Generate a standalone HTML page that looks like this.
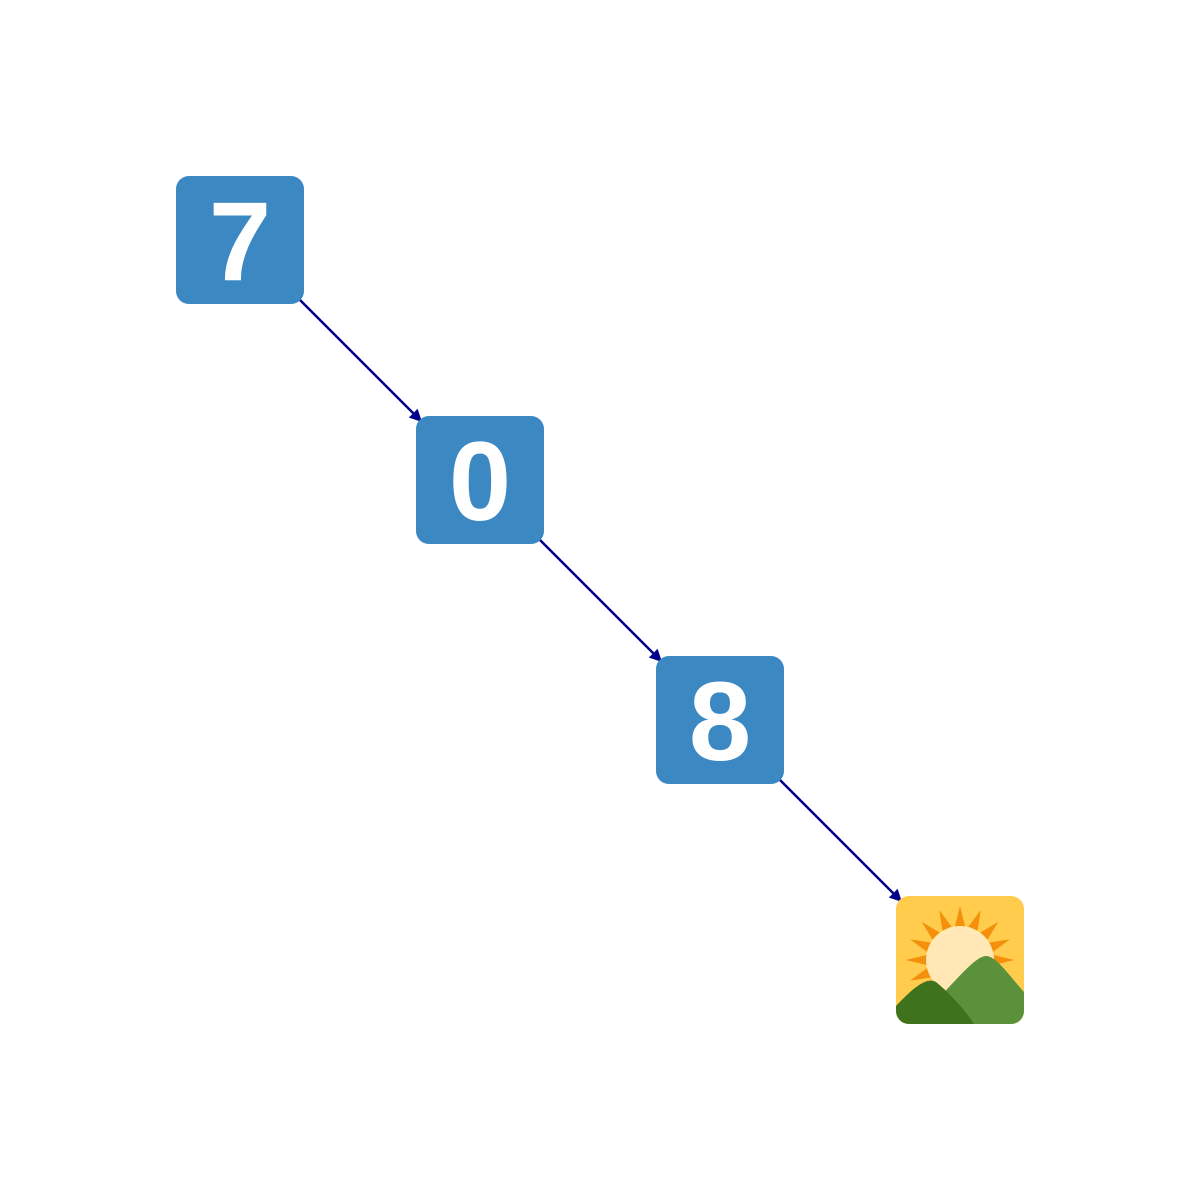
<!DOCTYPE html>
<html><head><meta charset="utf-8">
<style>html,body{margin:0;padding:0;background:#fff;}svg{display:block;}</style>
</head><body>
<svg id="chart" width="1200" height="1200" viewBox="0 0 1200 1200">
<defs>
<marker id="ah" viewBox="0 0 10 10" refX="10" refY="5" markerWidth="5" markerHeight="5" orient="auto" markerUnits="strokeWidth">
<path d="M0,0 L10,5 L0,10 z" fill="#00008b"/>
</marker>
<clipPath id="tileclip"><rect x="0" y="0" width="128" height="128" rx="13"/></clipPath>
</defs>
<g id="edges"></g>
<g id="nodes"></g>
</svg>
<script>
const nodeLabels = ["7", "0", "8", "sunrise"];
const nodeX = [240, 480, 720, 960];
const nodeY = [240, 480, 720, 960];
const edgeFrom = [0, 1, 2];
const edgeTo = [1, 2, 3];

const NS = "http://www.w3.org/2000/svg";
const half = 64;
const edges = document.getElementById("edges");
const nodes = document.getElementById("nodes");
function mk(tag, attrs, parent) {
  const e = document.createElementNS(NS, tag);
  for (const k in attrs) e.setAttribute(k, attrs[k]);
  parent.appendChild(e);
  return e;
}
for (let i = 0; i < edgeFrom.length; i++) {
  const a = edgeFrom[i], b = edgeTo[i];
  const dx = nodeX[b] - nodeX[a], dy = nodeY[b] - nodeY[a];
  const len = Math.hypot(dx, dy), ux = dx / len, uy = dy / len;
  const s = 82, t = 82;
  const l = mk("line", {x1: nodeX[a] + ux * s, y1: nodeY[a] + uy * s, x2: nodeX[b] - ux * t, y2: nodeY[b] - uy * t, stroke: "#00008b", "stroke-width": 2.5, "marker-end": "url(#ah)"}, edges);
  
  
}
for (let i = 0; i < nodeLabels.length; i++) {
  const g = mk("g", {transform: "translate(" + (nodeX[i] - half) + "," + (nodeY[i] - half) + ")"}, nodes);
  
  
  if (nodeLabels[i] === "sunrise") {
    const c = mk("g", {"clip-path": "url(#tileclip)"}, g);
    mk("rect", {x: 0, y: 0, width: 128, height: 128, fill: "#ffcc4d"}, c);
    const rays = mk("g", {fill: "#f4900c"}, c);
    for (let k = 0; k < 16; k++) {
      const ang = k * Math.PI / 8;
      const cx = 64, cy = 64, r1 = 28, r2 = 54;
      const w = 0.24;
      const p = [
        [cx + Math.cos(ang - w) * r1, cy + Math.sin(ang - w) * r1],
        [cx + Math.cos(ang) * r2, cy + Math.sin(ang) * r2],
        [cx + Math.cos(ang + w) * r1, cy + Math.sin(ang + w) * r1]
      ];
      mk("polygon", {points: p.map(q => q.join(",")).join(" ")}, rays);
    }
    mk("circle", {cx: 64, cy: 64, r: 34, fill: "#ffe8b6"}, c);
    mk("path", {d: "M40,128 L128,128 L128,96 C112,78 100,60 90,60 C80,60 62,82 40,105 Z", fill: "#5c913b"}, c);
    mk("path", {d: "M0,115 L0,128 L78,128 C68,112 50,94 40,86 C30,80 15,94 0,110 Z", fill: "#3e721d"}, c);
  } else {
    mk("rect", {x: 0, y: 0, width: 128, height: 128, rx: 13, fill: "#3b88c3"}, g);
    const t = mk("text", {x: 64, y: 104, "text-anchor": "middle", fill: "#ffffff", "font-family": "Liberation Sans, DejaVu Sans, sans-serif", "font-weight": "bold", "font-size": 112}, g);
    t.textContent = nodeLabels[i];
  }
}
</script>
</body></html>
